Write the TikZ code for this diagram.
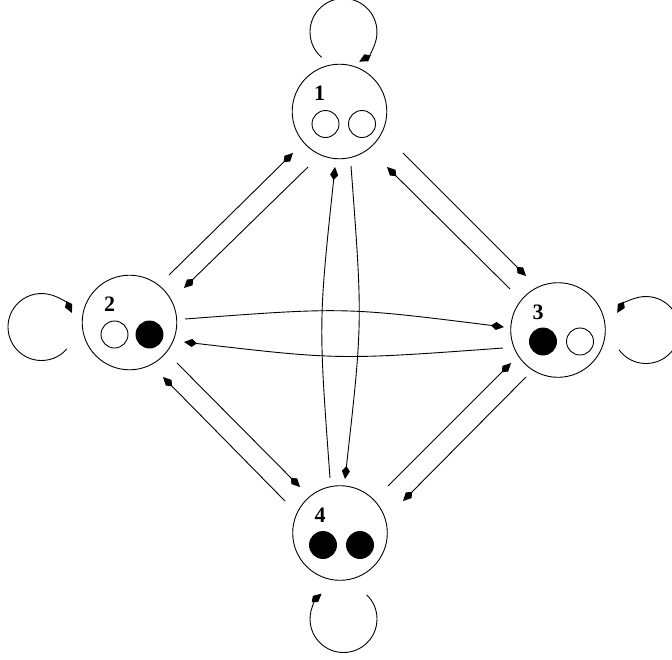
\documentclass[tikz,border=0pt]{standalone}
\usepackage{fontspec}
\setmainfont{Liberation Serif}
\usetikzlibrary{arrows.meta,calc}
\begin{document}
\begin{tikzpicture}[x=1pt,y=1pt,
  state/.style={circle,draw,line width=0.9pt,minimum size=94.6pt,inner sep=0pt},
  ball/.style={circle,draw,line width=0.9pt,minimum size=27pt,inner sep=0pt},
  full/.style={ball,fill=black},
  lab/.style={font=\bfseries\fontsize{22}{22}\selectfont,inner sep=0pt},
  arr/.style={line width=0.9pt,-{Kite[length=13pt,width=8pt,inset=5pt]}},
]
\useasboundingbox (0,0) rectangle (672,-659);

% states
\node[state] (n1) at (339.5,-111.5) {};
\node[state] (n2) at (129.5,-322.5) {};
\node[state] (n3) at (558,-330) {};
\node[state] (n4) at (340,-533) {};

% labels
\node[lab] (l1) at ($(n1)+(-20,18)$) {1};
\node[lab] (l2) at ($(n2)+(-20,18)$) {2};
\node[lab] (l3) at ($(n3)+(-20,18)$) {3};
\node[lab] (l4) at ($(n4)+(-20,18)$) {4};

% balls
\node[ball] (b1a) at ($(n1)+(-14,-12.5)$) {};
\node[ball] (b1b) at ($(n1)+(22.5,-12.5)$) {};
\node[ball] (b2a) at ($(n2)+(-15,-12)$) {};
\node[full] (b2b) at ($(n2)+(20,-12)$) {};
\node[full] (b3a) at ($(n3)+(-15,-11.5)$) {};
\node[ball] (b3b) at ($(n3)+(22,-11.5)$) {};
\node[full] (b4a) at ($(n4)+(-17,-12)$) {};
\node[full] (b4b) at ($(n4)+(20,-12)$) {};

% straight pairs
\draw[arr] ($(n2)+(39.5,47.5)$) -- ($(n1)+(-46.5,-41.5)$);
\draw[arr] ($(n1)+(-31.5,-55.5)$) -- ($(n2)+(54.5,34.5)$);
\draw[arr] ($(n1)+(63.5,-41.5)$) -- ($(n3)+(-32,54)$);
\draw[arr] ($(n3)+(-48,41)$) -- ($(n1)+(47.5,-55.5)$);
\draw[arr] ($(n2)+(47.5,-40.5)$) -- ($(n4)+(-40,46)$);
\draw[arr] ($(n4)+(-55,32)$) -- ($(n2)+(33.5,-54.5)$);
\draw[arr] ($(n4)+(48,47)$) -- ($(n3)+(-47,-33)$);
\draw[arr] ($(n3)+(-32,-47)$) -- ($(n4)+(63,32)$);

% curved pairs
\draw[arr] ($(n2)+(55.5,3.5)$) .. controls (344,-307) .. ($(n3)+(-54,3)$);
\draw[arr] ($(n3)+(-55,-18)$) .. controls (339,-360) .. ($(n2)+(54.5,-19.5)$);
\draw[arr] ($(n4)+(-10,55)$) .. controls (318.5,-322) .. ($(n1)+(-4.5,-55.5)$);
\draw[arr] ($(n1)+(11.5,-54.5)$) .. controls (362.7,-321.5) .. ($(n4)+(5,54)$);

% self loops
\draw[arr] ($(n1)+(4,79.5)+(229.3:33.5)$) arc[start angle=229.3,end angle=-62,radius=33.5];
\draw[arr] ($(n2)+(-88,-4.5)+(-40.8:33.5)$) arc[start angle=-40.8,end angle=-335.2,radius=33.5];
\draw[arr] ($(n3)+(88,0)+(216.2:33.5)$) arc[start angle=216.2,end angle=509.3,radius=33.5];
\draw[arr] ($(n4)+(3.5,-86)+(46:33.5)$) arc[start angle=46,end angle=-229.1,radius=33.5];
\end{tikzpicture}
\end{document}
